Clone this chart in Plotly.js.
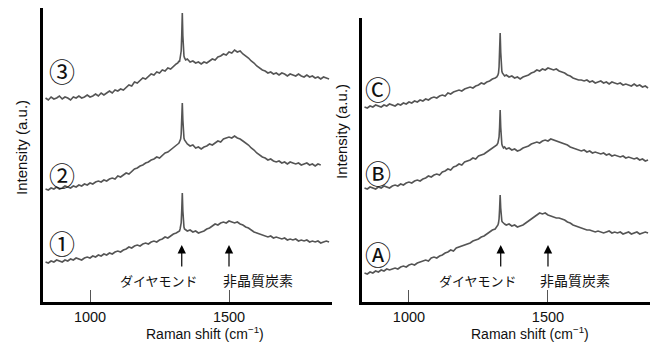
<!DOCTYPE html>
<html>
<head>
<meta charset="utf-8">
<script src="https://cdn.plot.ly/plotly-3.0.1.min.js"></script>
<style>html,body{margin:0;padding:0;background:#fff;}#chart{width:657px;height:342px;}</style>
</head>
<body>
<div id="chart"></div>
<script>
// Raman shift grid (cm^-1)
const ramanShift = [
  840,850,860,870,880,890,900,910,920,930,
  940,950,960,970,980,990,1000,1010,1020,1030,
  1040,1050,1060,1070,1080,1090,1100,1110,1120,1130,
  1140,1150,1160,1170,1180,1190,1200,1210,1220,1230,
  1240,1250,1260,1270,1280,1290,1300,1310,
  1316,1320,1322,1324,1326,1328,1330,1332,1334,1336,1338,1340,1344,
  1350,1360,1370,1380,1390,1400,1410,1420,1430,1440,
  1450,1460,1470,1480,1490,1500,1510,1520,1530,1540,
  1550,1560,1570,1580,1590,1600,1610,1620,1630,1640,
  1650,1660,1670,1680,1690,1700,1710,1720,1730,1740,
  1750,1760,1770,1780,1790,1800,1810,1820,1830,1840,
  1850,1860
];

// Left panel (offset intensities, a.u.)
const spec3 = [
  204,202,205,203,204,206,203,205,204,202,
  205,204,206,204,205,207,205,206,208,206,
  209,207,209,211,209,212,211,213,212,215,
  217,216,220,219,222,224,223,226,228,227,
  230,229,232,231,234,233,236,238,
  239,241,240,243,245,251,267,289,266,252,246,244,242,
  243,240,241,239,240,238,240,239,241,243,
  242,245,246,248,247,250,249,252,250,251,
  248,246,244,241,239,236,234,232,231,229,
  230,228,229,227,229,228,226,228,227,226,
  228,226,225,227,225,226,224,225,223,225,
  224,223
];
const spec2 = [
  113,112,114,113,115,113,114,116,115,114,
  116,115,117,116,118,117,119,118,120,121,
  120,122,121,123,124,123,126,125,127,129,
  128,131,133,134,136,137,139,140,142,143,
  145,144,147,149,150,152,154,156,
  158,159,160,161,163,168,181,199,182,169,164,162,160,
  158,156,157,154,155,153,155,156,158,157,
  159,161,160,163,164,165,164,166,164,163,
  161,159,157,154,152,149,147,145,144,142,
  143,141,140,141,139,140,138,140,139,138,
  139,137,138,139,137,138,136,138,137,null,
  null,null
];
const spec1 = [
  40,39,41,40,42,41,40,42,41,43,
  42,44,43,42,44,45,44,46,45,47,
  46,48,47,49,48,50,51,50,52,53,
  55,54,56,57,56,58,59,58,60,61,
  60,62,63,65,64,66,68,69,
  70,71,71,73,75,79,92,109,91,79,75,73,72,
  71,72,70,71,69,70,71,73,74,76,
  78,77,79,80,79,81,80,79,80,78,
  77,75,74,72,70,69,68,67,66,65,
  66,64,65,64,63,64,62,63,62,63,
  61,62,61,62,60,61,60,61,59,60,
  61,60
];

// Right panel
const specC = [
  195,194,196,195,197,196,195,197,196,198,
  197,196,198,197,199,198,200,199,201,200,
  202,201,203,202,204,205,204,206,207,206,
  209,208,210,211,212,211,213,214,215,214,
  216,217,219,218,220,221,223,224,
  225,227,229,235,249,269,250,237,231,229,228,227,226,
  227,225,226,224,225,223,225,226,227,229,
  230,232,231,233,232,234,233,232,233,231,
  230,229,227,226,224,223,222,222,221,222,
  220,221,219,220,221,219,220,218,220,219,
  218,219,217,218,217,216,218,216,217,215,
  216,214
];
const specB = [
  114,113,115,114,113,115,114,116,115,114,
  116,117,116,118,117,119,120,119,121,122,
  121,123,124,126,125,127,128,127,130,131,
  133,132,135,136,138,137,140,141,142,144,
  143,146,147,148,150,152,154,156,
  157,159,161,165,175,192,175,163,158,156,155,154,155,
  153,154,152,153,151,152,154,155,156,158,
  159,160,159,161,162,161,163,162,161,160,
  159,158,157,155,154,153,152,151,152,150,
  151,149,150,149,148,149,147,148,146,147,
  146,145,146,144,145,144,143,144,142,143,
  141,142
];
const specA = [
  29,28,30,29,31,30,32,31,33,32,
  33,34,33,35,36,35,37,38,37,39,
  40,41,42,41,44,45,44,46,47,49,
  50,52,51,54,55,56,57,58,59,61,
  62,63,65,66,68,70,72,73,
  75,77,79,83,93,107,94,84,81,80,79,79,78,
  77,78,76,77,75,76,77,79,81,83,
  85,87,89,88,89,87,86,85,84,84,
  83,82,80,79,77,76,75,74,73,72,
  72,71,70,71,70,69,70,71,69,70,
  69,70,68,69,70,68,69,70,68,69,
  70,69
];

const leftLabels = ['①','②','③'];
const rightLabels = ['Ⓐ','Ⓑ','Ⓒ'];
const tickValues = [1000, 1500];
const tickText = ['1000', '1500'];
const diamondShift = 1330;
const amorphousShift = 1500;

const W = 657, H = 342;
const px = x => x / W;
const py = y => 1 - y / H;

const lineStyle = {color: '#555555', width: 1.6};
function tr(y, xa, ya) {
  return {x: ramanShift, y: y, xaxis: xa, yaxis: ya, type: 'scatter', mode: 'lines',
          line: lineStyle, connectgaps: false, hoverinfo: 'skip'};
}
const data = [
  tr(spec1, 'x', 'y'), tr(spec2, 'x', 'y'), tr(spec3, 'x', 'y'),
  tr(specA, 'x2', 'y2'), tr(specB, 'x2', 'y2'), tr(specC, 'x2', 'y2')
];

const latin = 'Liberation Sans, Arial, sans-serif';
const jp = 'Noto Sans CJK JP, sans-serif';

function xAxis(domain, range) {
  return {domain: domain, range: range, showgrid: false, zeroline: false,
    showline: true, linecolor: '#000', linewidth: 2.5,
    tickmode: 'array', tickvals: tickValues, ticktext: tickText,
    ticks: 'inside', ticklen: 12, tickwidth: 1, tickcolor: '#555',
    ticklabelstandoff: 0,
    tickfont: {family: latin, size: 14.5, color: '#111'}, fixedrange: true};
}
function yAxis(domain, range, anchor) {
  return {domain: domain, range: range, anchor: anchor, showgrid: false, zeroline: false,
    showline: true, linecolor: '#000', linewidth: 3, showticklabels: false, ticks: '', fixedrange: true};
}

const annotations = [];
function paperText(text, x, y, size, family, angle, yanchor) {
  annotations.push({xref: 'paper', yref: 'paper', x: px(x), y: py(y), text: text,
    showarrow: false, xanchor: 'center', yanchor: yanchor || 'middle', textangle: angle || 0,
    font: {family: family, size: size, color: '#111'}});
}
paperText('Intensity (a.u.)', 21, 148, 15, latin, -90);
paperText('Intensity (a.u.)', 341, 132, 15, latin, -90);
paperText('Raman shift (cm<sup>−1</sup>)', 205, 344, 14, latin, 0, 'bottom');
paperText('Raman shift (cm<sup>−1</sup>)', 530, 344, 14, latin, 0, 'bottom');
paperText('ダイヤモンド', 159, 280, 13, jp);
paperText('非晶質炭素', 258, 280, 14, jp);
paperText('ダイヤモンド', 478, 280, 13, jp);
paperText('非晶質炭素', 575, 280, 14, jp);
const leftY = [242, 174, 70];
const rightY = [253, 172, 88];
leftLabels.forEach((t, i) => paperText(t, 62, leftY[i], 26, jp));
rightLabels.forEach((t, i) => paperText(t, 378, rightY[i], 26, jp));

function arrow(x, xa, ya) {
  annotations.push({x: x, y: 57, xref: xa, yref: ya, ax: x, ay: 34, axref: xa, ayref: ya,
    text: '', showarrow: true, arrowhead: 2, arrowsize: 1.4, arrowwidth: 1.2, arrowcolor: '#000'});
}
arrow(diamondShift, 'x', 'y');
arrow(amorphousShift, 'x', 'y');
arrow(diamondShift, 'x2', 'y2');
arrow(amorphousShift, 'x2', 'y2');

const layout = {
  width: W, height: H, margin: {l: 0, r: 0, t: 0, b: 0},
  paper_bgcolor: '#fff', plot_bgcolor: 'rgba(0,0,0,0)', showlegend: false,
  xaxis: xAxis([px(43), px(332)], [830.9, 1870.5]),
  yaxis: yAxis([py(302), py(8)], [0, 294], 'x'),
  xaxis2: Object.assign(xAxis([px(362), px(650)], [831, 1867]), {anchor: 'y2'}),
  yaxis2: yAxis([py(302), py(18)], [0, 284], 'x2'),
  annotations: annotations
};
layout.xaxis.anchor = 'y';

Plotly.newPlot('chart', data, layout, {displayModeBar: false, staticPlot: true});
</script>
</body>
</html>
